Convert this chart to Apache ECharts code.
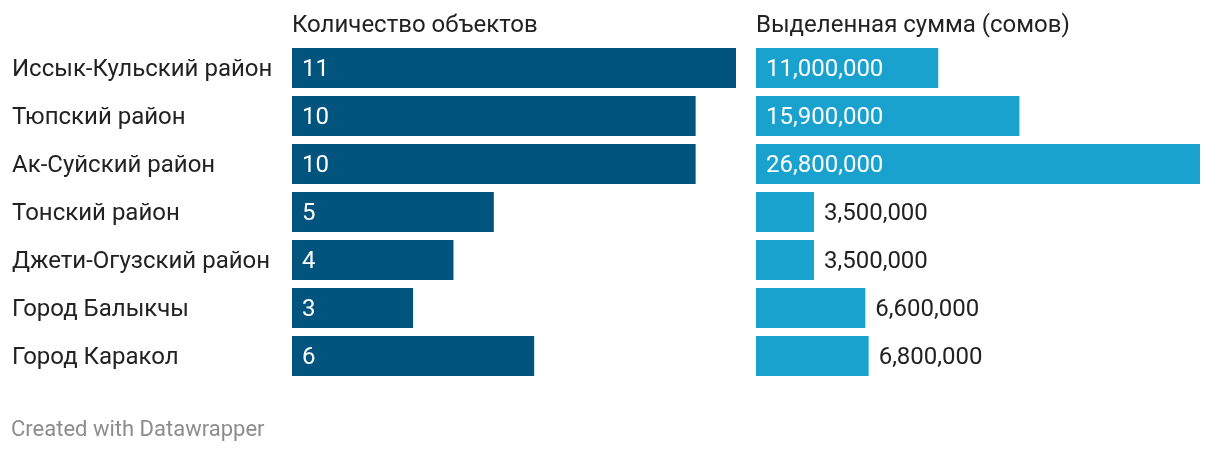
<!DOCTYPE html>
<html>
<head>
<meta charset="utf-8">
<script src="https://cdn.jsdelivr.net/npm/echarts@6/dist/echarts.min.js"></script>
<style>html,body{margin:0;padding:0;background:#fff}#c{width:1220px;height:452px}</style>
</head>
<body>
<div id="c"></div>
<script>
const categories = ['Иссык-Кульский район','Тюпский район','Ак-Суйский район','Тонский район','Джети-Огузский район','Город Балыкчы','Город Каракол'];
const objectCounts = [11,10,10,5,4,3,6];
const amounts = [11000000,15900000,26800000,3500000,3500000,6600000,6800000];
const headers = ['Количество объектов','Выделенная сумма (сомов)'];
const footer = 'Created with Datawrapper';

const FONT = 'Roboto';
const chart = echarts.init(document.getElementById('c'), null, {renderer:'canvas'});
const fmt = v => v.toLocaleString('en-US');

chart.setOption({
  animation:false,
  textStyle:{fontFamily:FONT},
  title:[
    {text:headers[0], left:292, top:14, padding:0, textStyle:{fontFamily:FONT,fontSize:24,fontWeight:'normal',color:'#222'}},
    {text:headers[1], left:756, top:14, padding:0, textStyle:{fontFamily:FONT,fontSize:24,fontWeight:'normal',color:'#222'}},
    {text:footer, left:11, top:419, padding:0, textStyle:{fontFamily:FONT,fontSize:22,fontWeight:'normal',color:'#8c8c8c'}}
  ],
  grid:[
    {left:292, top:44, width:444, height:336},
    {left:756, top:44, width:444, height:336}
  ],
  xAxis:[
    {gridIndex:0, type:'value', min:0, max:11, show:false},
    {gridIndex:1, type:'value', min:0, max:26800000, show:false}
  ],
  yAxis:[
    {gridIndex:0, type:'category', data:categories, inverse:true,
     axisLine:{show:false}, axisTick:{show:false},
     axisLabel:{align:'left', margin:280, fontFamily:FONT, fontSize:24, color:'#222',
       formatter: v => '{c|' + v + '}',
       rich:{c:{fontFamily:FONT, fontSize:24, color:'#222', padding:[4,0,0,0]}}}},
    {gridIndex:1, type:'category', data:categories, inverse:true, show:false}
  ],
  series:[
    {type:'bar', xAxisIndex:0, yAxisIndex:0, data:objectCounts, barWidth:40,
     itemStyle:{color:'#00547d'},
     label:{show:true, position:'insideLeft', distance:10, offset:[0,2], color:'#fff', fontFamily:FONT, fontSize:24}},
    {type:'bar', xAxisIndex:1, yAxisIndex:1, barWidth:40,
     data: amounts.map(v => ({
       value:v,
       label: v > 10000000
         ? {show:true, position:'insideLeft', distance:10, color:'#fff'}
         : {show:true, position:'right', distance:10, color:'#222'}
     })),
     itemStyle:{color:'#1aa2cf'},
     label:{show:true, offset:[0,2], fontFamily:FONT, fontSize:24, formatter:p => fmt(p.value)}}
  ]
});
</script>
</body>
</html>
